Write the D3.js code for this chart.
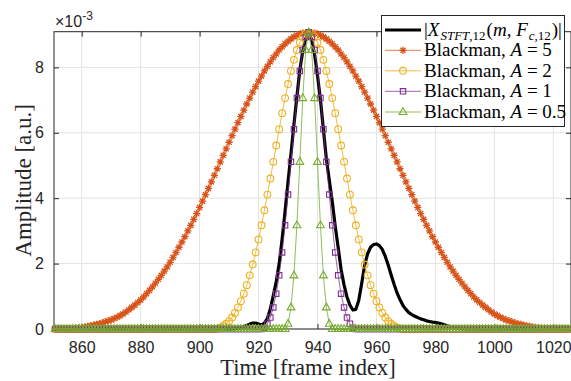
<!DOCTYPE html>
<html><head><meta charset="utf-8">
<script src="https://cdn.jsdelivr.net/npm/d3@7/dist/d3.min.js"></script>
<style>body{margin:0;background:#fff}svg{display:block}</style>
</head><body>
<svg id="chart" width="571" height="381"></svg>
<script>
// ---------- data (amplitudes in units of 1e-3) ----------
const frameStart = 851;   // first frame index
const frameEnd = 1026;    // last frame index
const xTickValues = [860, 880, 900, 920, 940, 960, 980, 1000, 1020];
const yTickValues = [0, 2, 4, 6, 8];
const seriesNames = ["|X_STFT,12(m,F_c,12)|", "Blackman, A = 5", "Blackman, A = 2", "Blackman, A = 1", "Blackman, A = 0.5"];

const stftMag = [
  0,0,0,0,0,0,0,0,0,0,                        // 851-860
  0,0,0,0,0,0,0,0,0,0,                        // 861-870
  0,0,0,0,0,0,0,0,0,0,                        // 871-880
  0,0,0,0,0,0,0,0,0,0,                        // 881-890
  0,0,0,0,0,0,0,0,0,0,                        // 891-900
  0,0,0,0,0,0,0,0,0,0,                        // 901-910
  0,0.01,0.02,0.04,0.07,0.11,0.15,0.18,0.18,0.15,   // 911-920
  0.12,0.18,0.33,0.62,1.02,1.45,2.0,2.75,3.6,4.5,   // 921-930
  5.35,6.25,7.1,7.92,8.5,8.88,9.02,8.85,8.4,7.75,   // 931-940
  7.0,6.1,5.2,4.55,3.9,3.15,2.5,1.82,1.35,0.98,     // 941-950
  0.73,0.58,0.6,0.88,1.4,1.95,2.3,2.5,2.58,2.6,     // 951-960
  2.55,2.43,2.22,1.95,1.65,1.36,1.1,0.9,0.72,0.6,   // 961-970
  0.5,0.44,0.39,0.35,0.31,0.28,0.25,0.23,0.21,0.2,  // 971-980
  0.18,0.16,0.13,0.1,0.07,0.05,0.03,0.02,0.01,0,    // 981-990
  0,0,0,0,0,0,0,0,0,0,                        // 991-1000
  0,0,0,0,0,0,0,0,0,0,                        // 1001-1010
  0,0,0,0,0,0,0,0,0,0,                        // 1011-1020
  0,0,0,0,0,0                                 // 1021-1026
];

const blackmanA5 = [
  0,0,0,0,0,0,0.02,0.03,0.04,0.05,
  0.06,0.08,0.10,0.12,0.14,0.16,0.19,0.22,0.25,0.28,
  0.32,0.36,0.41,0.46,0.52,0.59,0.66,0.73,0.81,0.89,
  0.98,1.08,1.18,1.29,1.40,1.52,1.64,1.77,1.90,2.04,
  2.19,2.34,2.50,2.66,2.82,3.00,3.17,3.35,3.53,3.72,
  3.91,4.11,4.30,4.50,4.70,4.90,5.11,5.31,5.51,5.71,
  5.91,6.11,6.31,6.50,6.69,6.88,7.06,7.24,7.41,7.58,
  7.73,7.89,8.03,8.17,8.30,8.41,8.53,8.63,8.72,8.80,
  8.87,8.93,8.98,9.02,9.05,9.06,9.07,9.06,9.05,9.02,
  8.98,8.93,8.87,8.80,8.72,8.63,8.53,8.41,8.30,8.17,
  8.03,7.89,7.73,7.58,7.41,7.24,7.06,6.88,6.69,6.50,
  6.31,6.11,5.91,5.71,5.51,5.31,5.11,4.90,4.70,4.50,
  4.30,4.11,3.91,3.72,3.53,3.35,3.17,3.00,2.82,2.66,
  2.50,2.34,2.19,2.04,1.90,1.77,1.64,1.52,1.40,1.29,
  1.18,1.08,0.98,0.89,0.81,0.73,0.66,0.59,0.52,0.46,
  0.41,0.36,0.32,0.28,0.25,0.22,0.19,0.16,0.14,0.12,
  0.10,0.08,0.06,0.05,0.04,0.03,0.02,0,0,0,
  0,0,0,0,0,0
];

const blackmanA2 = [
  0,0,0,0,0,0,0,0,0,0,
  0,0,0,0,0,0,0,0,0,0,
  0,0,0,0,0,0,0,0,0,0,
  0,0,0,0,0,0,0,0,0,0,
  0,0,0,0,0,0,0,0,0,0,
  0,0,0,0,0,0.01,0.04,0.09,0.16,0.24,
  0.35,0.49,0.66,0.85,1.08,1.34,1.64,1.97,2.34,2.74,
  3.17,3.63,4.11,4.60,5.11,5.61,6.11,6.60,7.06,7.49,
  7.89,8.23,8.53,8.76,8.93,9.03,9.07,9.03,8.93,8.76,
  8.53,8.23,7.89,7.49,7.06,6.60,6.11,5.61,5.11,4.60,
  4.11,3.63,3.17,2.74,2.34,1.97,1.64,1.34,1.08,0.85,
  0.66,0.49,0.35,0.24,0.16,0.09,0.04,0.01,0,0,
  0,0,0,0,0,0,0,0,0,0,
  0,0,0,0,0,0,0,0,0,0,
  0,0,0,0,0,0,0,0,0,0,
  0,0,0,0,0,0,0,0,0,0,
  0,0,0,0,0,0,0,0,0,0,
  0,0,0,0,0,0
];

const blackmanA1 = [
  0,0,0,0,0,0,0,0,0,0,
  0,0,0,0,0,0,0,0,0,0,
  0,0,0,0,0,0,0,0,0,0,
  0,0,0,0,0,0,0,0,0,0,
  0,0,0,0,0,0,0,0,0,0,
  0,0,0,0,0,0,0,0,0,0,
  0,0,0,0,0,0,0,0,0,0,
  0,0.04,0.16,0.35,0.66,1.08,1.64,2.34,3.17,4.11,
  5.11,6.11,7.06,7.89,8.53,8.93,9.07,8.93,8.53,7.89,
  7.06,6.11,5.11,4.11,3.17,2.34,1.64,1.08,0.66,0.35,
  0.16,0.04,0,0,0,0,0,0,0,0,
  0,0,0,0,0,0,0,0,0,0,
  0,0,0,0,0,0,0,0,0,0,
  0,0,0,0,0,0,0,0,0,0,
  0,0,0,0,0,0,0,0,0,0,
  0,0,0,0,0,0,0,0,0,0,
  0,0,0,0,0,0,0,0,0,0,
  0,0,0,0,0,0
];

const blackmanA05 = [
  0,0,0,0,0,0,0,0,0,0,
  0,0,0,0,0,0,0,0,0,0,
  0,0,0,0,0,0,0,0,0,0,
  0,0,0,0,0,0,0,0,0,0,
  0,0,0,0,0,0,0,0,0,0,
  0,0,0,0,0,0,0,0,0,0,
  0,0,0,0,0,0,0,0,0,0,
  0,0,0,0,0,0,0,0,0,0.16,
  0.66,1.64,3.17,5.11,7.06,8.53,9.07,8.53,7.06,5.11,
  3.17,1.64,0.66,0.16,0,0,0,0,0,0,
  0,0,0,0,0,0,0,0,0,0,
  0,0,0,0,0,0,0,0,0,0,
  0,0,0,0,0,0,0,0,0,0,
  0,0,0,0,0,0,0,0,0,0,
  0,0,0,0,0,0,0,0,0,0,
  0,0,0,0,0,0,0,0,0,0,
  0,0,0,0,0,0,0,0,0,0,
  0,0,0,0,0,0
];

// ---------- drawing ----------
const frames = d3.range(frameStart, frameEnd + 1);
const svg = d3.select("#chart");
const L = 54, R = 571, T = 31.7, B = 329;
const x = d3.scaleLinear().domain([850.6, 1026]).range([L, R]);
const y = d3.scaleLinear().domain([0, 9.09]).range([B, T]);
const axisColor = "#262626";
const sans = "'Liberation Sans', Arial, Helvetica, sans-serif";
const serif = "'Liberation Serif', 'Times New Roman', serif";

svg.append("rect").attr("width", 571).attr("height", 381).attr("fill", "#fff");

// grid
const grid = svg.append("g").attr("stroke", "#e3e3e3").attr("stroke-width", 1);
xTickValues.forEach(v => grid.append("line").attr("x1", x(v)).attr("x2", x(v)).attr("y1", T).attr("y2", B));
yTickValues.forEach(v => grid.append("line").attr("x1", L).attr("x2", R).attr("y1", y(v)).attr("y2", y(v)));

// axes (box, inward ticks)
const xAxisB = d3.axisBottom(x).tickValues(xTickValues).tickSize(-5).tickPadding(13).tickFormat(d3.format("d"));
const xAxisT = d3.axisTop(x).tickValues(xTickValues).tickSize(-5).tickFormat("");
const yAxisL = d3.axisLeft(y).tickValues(yTickValues).tickSize(-5).tickPadding(10).tickFormat(d3.format("d"));
const yAxisR = d3.axisRight(y).tickValues(yTickValues).tickSize(-5).tickFormat("");
function styleAxis(g) {
  g.select(".domain").remove();
  g.selectAll(".tick line").attr("stroke", axisColor);
  g.selectAll(".tick text").attr("fill", axisColor).attr("font-family", sans).attr("font-size", 16);
}
svg.append("g").attr("transform", `translate(0,${B})`).call(xAxisB).call(styleAxis);
svg.append("g").attr("transform", `translate(0,${T})`).call(xAxisT).call(styleAxis);
svg.append("g").attr("transform", `translate(${L},0)`).call(yAxisL).call(styleAxis);
svg.append("g").attr("transform", `translate(${R},0)`).call(yAxisR).call(styleAxis);
svg.append("rect").attr("x", L).attr("y", T).attr("width", R - L).attr("height", B - T)
  .attr("fill", "none").attr("stroke", axisColor).attr("stroke-width", 1);

// exponent label
const ex = svg.append("text").attr("x", 55).attr("y", 26.5).attr("font-family", sans).attr("font-size", 16).attr("fill", axisColor);
ex.append("tspan").text("\u00d710");
ex.append("tspan").attr("font-size", 12).attr("dy", -7).text("-3");

// axis titles
svg.append("text").attr("x", 308).attr("y", 375).attr("text-anchor", "middle")
  .attr("font-family", serif).attr("font-size", 22.5).attr("fill", axisColor).text("Time [frame index]");
svg.append("text").attr("transform", `translate(31,${(T + B) / 2}) rotate(-90)`).attr("text-anchor", "middle")
  .attr("font-family", serif).attr("font-size", 23).attr("fill", axisColor).text("Amplitude [a.u.]");

// markers
const markerPaths = {
  asterisk: "M-3.6,0H3.6M0,-3.6V3.6M-2.6,-2.6L2.6,2.6M-2.6,2.6L2.6,-2.6",
  square: "M-2.7,-2.7H2.7V2.7H-2.7Z",
  triangle: "M0,-4.3L3.9,2.5H-3.9Z"
};
function drawMarker(g, type, color, cx, cy, sw) {
  if (type === "circle") {
    g.append("circle").attr("cx", cx).attr("cy", cy).attr("r", 3.4)
      .attr("fill", "none").attr("stroke", color).attr("stroke-width", sw);
  } else {
    g.append("path").attr("d", markerPaths[type]).attr("transform", `translate(${cx},${cy})`)
      .attr("fill", "none").attr("stroke", color).attr("stroke-width", sw);
  }
}

const series = [
  { name: seriesNames[0], values: stftMag, color: "#000000", width: 3.2, marker: null, lineOpacity: 1, msw: 1 },
  { name: seriesNames[1], values: blackmanA5, color: "#D95319", width: 1, marker: "asterisk", lineOpacity: 0.75, msw: 1.3 },
  { name: seriesNames[2], values: blackmanA2, color: "#EDB120", width: 1, marker: "circle", lineOpacity: 0.85, msw: 1.1 },
  { name: seriesNames[3], values: blackmanA1, color: "#7E2F8E", width: 1, marker: "square", lineOpacity: 0.75, msw: 1.1 },
  { name: seriesNames[4], values: blackmanA05, color: "#77AC30", width: 1, marker: "triangle", lineOpacity: 0.8, msw: 1.1 }
];

const line = d3.line().x((d, i) => x(frames[i])).y(d => y(d));
series.forEach(s => {
  const g = svg.append("g");
  g.append("path").attr("d", line(s.values)).attr("fill", "none").attr("stroke", s.color)
    .attr("stroke-width", s.width).attr("stroke-opacity", s.lineOpacity).attr("stroke-linejoin", "round");
  if (s.marker) {
    s.values.forEach((v, i) => drawMarker(g, s.marker, s.color, x(frames[i]), y(v), s.msw));
  }
});

// legend
const lg = svg.append("g");
lg.append("rect").attr("x", 381.5).attr("y", 15.5).attr("width", 183).attr("height", 111)
  .attr("fill", "#fff").attr("stroke", axisColor).attr("stroke-width", 1);
const rowY = [30, 50.3, 70.8, 91.3, 112];
series.forEach((s, i) => {
  const ry = rowY[i];
  lg.append("line").attr("x1", 385).attr("x2", 421).attr("y1", ry).attr("y2", ry)
    .attr("stroke", s.color).attr("stroke-width", s.width).attr("stroke-opacity", s.lineOpacity);
  if (s.marker) drawMarker(lg, s.marker, s.color, 403, ry, s.msw);
  const t = lg.append("text").attr("x", 424).attr("y", ry + 6).attr("font-family", serif)
    .attr("font-size", 19).attr("fill", "#000");
  if (i === 0) {
    t.append("tspan").text("|");
    t.append("tspan").attr("font-style", "italic").text("X");
    t.append("tspan").attr("font-size", 13).attr("font-style", "italic").attr("dx", 1).attr("dy", 4).text("STFT");
    t.append("tspan").attr("font-size", 13).text(",12");
    t.append("tspan").attr("dx", 1).attr("dy", -4).text("(");
    t.append("tspan").attr("font-style", "italic").text("m");
    t.append("tspan").text(", ");
    t.append("tspan").attr("font-style", "italic").text("F");
    t.append("tspan").attr("font-size", 13).attr("font-style", "italic").attr("dx", 1).attr("dy", 4).text("c");
    t.append("tspan").attr("font-size", 13).text(",12");
    t.append("tspan").attr("dx", 1).attr("dy", -4).text(")|");
  } else {
    const parts = s.name.split("A");
    t.append("tspan").text(parts[0]);
    t.append("tspan").attr("font-style", "italic").text("A");
    t.append("tspan").text(parts[1]);
  }
});
</script>
</body></html>
